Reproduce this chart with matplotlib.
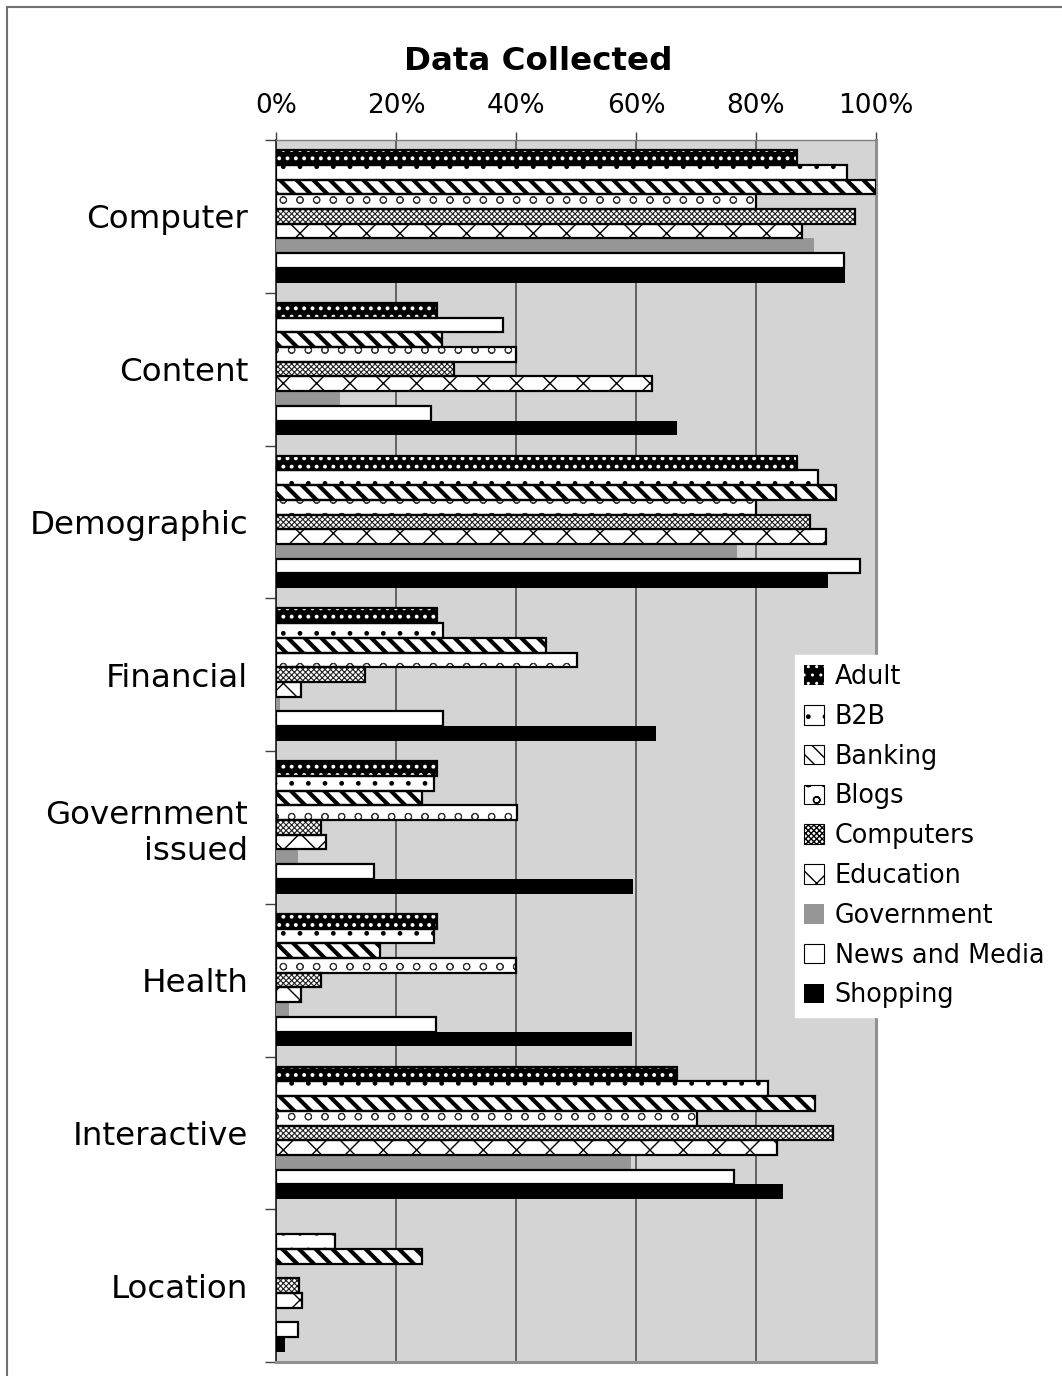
import matplotlib
matplotlib.use("Agg")
import matplotlib.pyplot as plt
from matplotlib.patches import Patch, Rectangle
from matplotlib.ticker import FixedLocator, PercentFormatter
import numpy as np

# share of sites (%) collecting each kind of data, per site category
categories = ['Computer', 'Content', 'Demographic', 'Financial',
              'Government\nissued', 'Health', 'Interactive', 'Location']
adult = [86.8, 26.8, 86.8, 26.8, 26.8, 26.8, 66.8, 0]
b2b = [95.2, 37.8, 90.3, 27.8, 26.3, 26.3, 82.0, 9.8]
banking = [100, 27.7, 93.3, 45.0, 24.3, 17.3, 89.8, 24.3]
blogs = [80.0, 40.0, 80.0, 50.2, 40.1, 40.0, 70.2, 0]
computers = [96.5, 29.7, 89.0, 14.9, 7.5, 7.5, 92.8, 3.8]
education = [87.7, 62.7, 91.7, 4.2, 8.4, 4.2, 83.5, 4.3]
government = [89.7, 10.7, 76.8, 0.7, 3.6, 2.2, 59.2, 0]
news = [94.7, 25.8, 97.3, 27.8, 16.4, 26.7, 76.3, 3.6]
shopping = [94.8, 66.8, 92.0, 63.3, 59.5, 59.3, 84.5, 1.5]

series = ['Adult', 'B2B', 'Banking', 'Blogs', 'Computers', 'Education',
          'Government', 'News and Media', 'Shopping']
values = [adult, b2b, banking, blogs, computers, education, government, news, shopping]

# face, hatch colour, hatch, outlined?, hatch linewidth
styles = [
    ('black', 'white', '..', True, 1.6),
    ('white', 'black', '.', True, 1.0),
    ('white', 'black', '\\\\', True, 3.0),
    ('white', '#333333', 'o', True, 0.7),
    ('white', '#222222', 'xxxxxx', True, 0.8),
    ('white', 'black', 'x', True, 1.0),
    ('#969696', None, None, False, 1.0),
    ('white', None, None, True, 1.0),
    ('black', None, None, False, 1.0),
]

W, H = 1062, 1376
fig = plt.figure(figsize=(W / 100, H / 100), dpi=100)
fig.patches.append(Rectangle((7 / W, -0.01), 1.1, 1 - 7 / H + 0.01,
                             transform=fig.transFigure, fill=False,
                             edgecolor='#707070', lw=1.5))

ax = fig.add_axes([276 / W, 14 / H, 600 / W, 1222 / H])
ax.set_facecolor('#d4d4d4')

y = np.arange(len(categories))
n = len(series)
bh = 0.0962
handles = []
for i, (name, vals, st) in enumerate(zip(series, values, styles)):
    face, hcol, hatch, outline, hlw = st
    pos = y + (i - (n - 1) / 2) * bh
    vals = np.array(vals, dtype=float)
    bars = ax.barh(pos, vals, height=bh, color=face,
                   edgecolor=hcol if hcol else face, hatch=hatch, lw=0, zorder=3)
    for b in bars:
        if hasattr(b, 'set_hatch_linewidth'):
            b.set_hatch_linewidth(hlw)
    if outline:
        mask = vals > 0
        ax.barh(pos[mask], vals[mask], height=bh, fill=False,
                edgecolor='black', lw=1.6, zorder=4)
    if face == 'black' and hcol:
        ec, lw = hcol, 0
    elif outline:
        ec, lw = 'black', 0.8
    else:
        ec, lw = face, 0
    h = Patch(facecolor=face, edgecolor=ec, hatch=hatch, lw=lw, label=name)
    if hasattr(h, 'set_hatch_linewidth'):
        h.set_hatch_linewidth(min(hlw, 1.6))
    handles.append(h)

ax.set_xlim(0, 100)
ax.set_ylim(len(categories) - 0.5, -0.5)
ax.xaxis.tick_top()
ax.xaxis.set_major_locator(FixedLocator([0, 20, 40, 60, 80, 100]))
ax.xaxis.set_major_formatter(PercentFormatter(decimals=0))
ax.tick_params(axis='x', which='major', direction='out', length=6, width=1,
               color='#404040', labelsize=19, pad=9)
ax.grid(axis='x', color='#444444', lw=1.1, zorder=1)

ax.yaxis.set_major_locator(FixedLocator(np.arange(-0.5, len(categories), 1.0)))
ax.yaxis.set_minor_locator(FixedLocator(y))
ax.set_yticklabels([], minor=False)
ax.set_yticklabels(categories, minor=True)
ax.tick_params(axis='y', which='major', direction='out', length=8, width=1,
               color='#404040')
ax.tick_params(axis='y', which='minor', length=0, labelsize=23.4, pad=20)

ax.spines['left'].set_color('#202020')
ax.spines['left'].set_linewidth(1.2)
ax.spines['top'].set_color('#808080')
ax.spines['top'].set_linewidth(1)
for s in ('right', 'bottom'):
    ax.spines[s].set_color('#909090')
    ax.spines[s].set_linewidth(2.2)

fig.text(538 / W, 1 - 62 / H, 'Data Collected', ha='center', va='center',
         fontsize=23.4, fontweight='bold')

leg = fig.legend(handles=handles, loc='upper left',
                 bbox_to_anchor=(795 / W, 1 - 655 / H), fontsize=18.4,
                 frameon=True, fancybox=False, handlelength=0.8,
                 handleheight=0.8, handletextpad=0.4, labelspacing=0.54,
                 borderpad=0.35, borderaxespad=0)
leg.get_frame().set_edgecolor('white')
leg.get_frame().set_facecolor('white')
leg.get_frame().set_alpha(1)

fig.savefig('out.png', dpi=100)
